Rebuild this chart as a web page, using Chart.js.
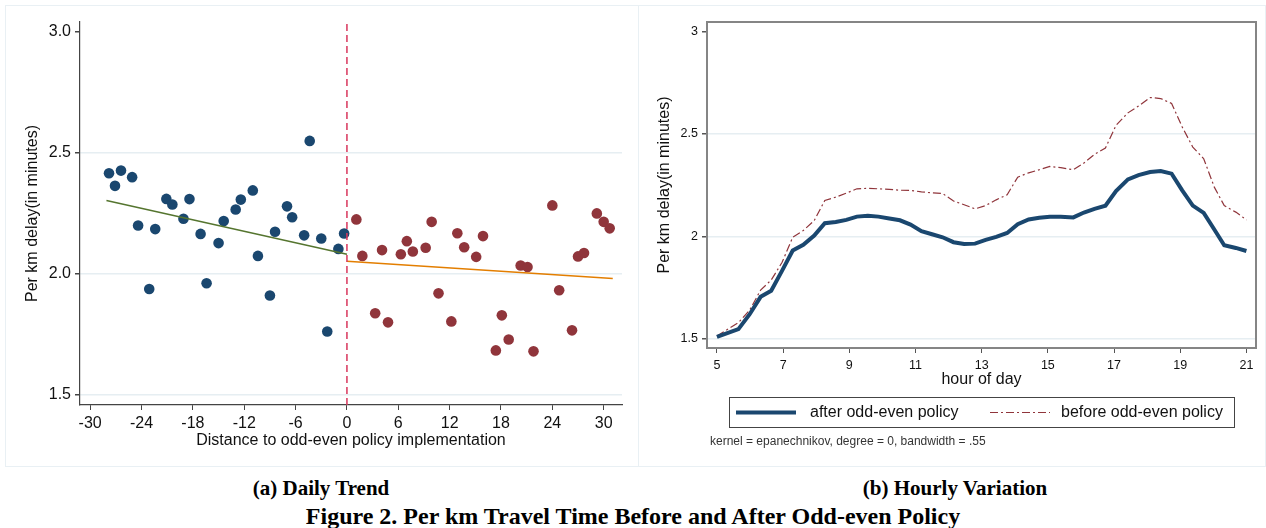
<!DOCTYPE html>
<html>
<head>
<meta charset="utf-8">
<script src="https://cdn.jsdelivr.net/npm/chart.js@4.4.1/dist/chart.umd.min.js"></script>
<style>
  body { margin: 0; background: #fff; width: 1266px; height: 528px; position: relative; overflow: hidden; }
  .panel { position: absolute; border: 1px solid #e9f0f4; box-sizing: border-box; }
  .wrap { position: absolute; }
  .cap { position: absolute; font-family: 'Liberation Serif', 'Times New Roman', serif; font-weight: bold; font-size: 21px; color: #000; white-space: nowrap; transform: translate(-50%, -50%); }
</style>
</head>
<body>
<div class="panel" style="left:5px;top:5px;width:634px;height:462px;"></div>
<div class="panel" style="left:638px;top:5px;width:628px;height:462px;"></div>
<div class="wrap" style="left:0;top:0;width:640px;height:470px;"><canvas id="dailyChart" width="640" height="470"></canvas></div>
<div class="wrap" style="left:640px;top:0;width:626px;height:470px;"><canvas id="hourlyChart" width="626" height="470"></canvas></div>
<div class="cap" style="left:321px;top:488px;">(a) Daily Trend</div>
<div class="cap" style="left:955px;top:488px;">(b) Hourly Variation</div>
<div class="cap" style="left:633px;top:516px;font-size:24px;">Figure 2. Per km Travel Time Before and After Odd-even Policy</div>

<script>
// Data - daily trend
const daysBefore = [-27.8, -27.1, -26.4, -25.1, -24.4, -23.1, -22.4, -21.1, -20.4, -19.1, -18.4, -17.1, -16.4, -15.0, -14.4,
    -13.0, -12.4, -11.0, -10.4, -9.0, -8.4, -7.0, -6.4, -5.0, -4.35, -3.0, -2.3, -1.0, -0.33];
const delayBefore = [2.415, 2.363, 2.426, 2.399, 2.199, 1.936, 2.184, 2.309, 2.286, 2.227, 2.308, 2.164, 1.960, 2.126, 2.217,
    2.265, 2.306, 2.344, 2.073, 1.909, 2.173, 2.278, 2.233, 2.158, 2.549, 2.145, 1.760, 2.102, 2.166];
const daysAfter = [1.1, 1.8, 3.3, 4.1, 4.8, 6.3, 7.0, 7.7, 9.2, 9.9, 10.7, 12.2, 12.9, 13.7, 15.1,
    15.9, 17.4, 18.1, 18.9, 20.3, 21.1, 21.8, 24.0, 24.8, 26.3, 27.0, 27.7, 29.2, 30.0, 30.7];
const delayAfter = [2.224, 2.073, 1.836, 2.097, 1.798, 2.080, 2.134, 2.091, 2.107, 2.214, 1.918, 1.802, 2.167, 2.109, 2.069,
    2.155, 1.682, 1.827, 1.727, 2.033, 2.027, 1.678, 2.282, 1.931, 1.765, 2.071, 2.085, 2.249, 2.214, 2.187];
const fitBeforeX = [-28.1, 0];
const fitBeforeY = [2.302, 2.080];
const fitAfterX = [0, 31.06];
const fitAfterY = [2.051, 1.980];
const dailyXTicks = [-30, -24, -18, -12, -6, 0, 6, 12, 18, 24, 30];
const dailyYTicks = [1.5, 2.0, 2.5, 3.0];
const dailyXRange = [-31.19, 32.14];
const dailyYRange = [1.456, 3.041];

// Data - hourly variation
const hours = [5.0, 5.65, 5.99, 6.32, 6.64, 6.97, 7.29, 7.61, 7.94, 8.26, 8.59, 8.91, 9.23, 9.56, 9.88, 10.21, 10.53,
    10.85, 11.18, 11.50, 11.82, 12.15, 12.47, 12.80, 13.12, 13.44, 13.77, 14.09, 14.42, 14.74, 15.06, 15.39, 15.77,
    16.09, 16.41, 16.74, 17.06, 17.42, 17.74, 18.09, 18.41, 18.74, 19.06, 19.38, 19.71, 20.03, 20.33, 20.68, 21.0];
const afterPolicy = [1.508, 1.546, 1.619, 1.704, 1.734, 1.832, 1.930, 1.958, 2.003, 2.064, 2.070, 2.080, 2.096, 2.100,
    2.096, 2.087, 2.078, 2.057, 2.025, 2.010, 1.995, 1.971, 1.962, 1.964, 1.982, 1.997, 2.016, 2.059, 2.082, 2.090,
    2.095, 2.095, 2.092, 2.116, 2.134, 2.149, 2.221, 2.278, 2.299, 2.314, 2.319, 2.306, 2.224, 2.150, 2.114, 2.033,
    1.956, 1.943, 1.928];
const beforePolicy = [1.513, 1.578, 1.639, 1.737, 1.786, 1.873, 1.995, 2.028, 2.077, 2.175, 2.191, 2.211, 2.232, 2.234,
    2.232, 2.229, 2.225, 2.224, 2.217, 2.212, 2.209, 2.172, 2.154, 2.134, 2.150, 2.178, 2.203, 2.289, 2.310, 2.325,
    2.341, 2.335, 2.325, 2.358, 2.400, 2.431, 2.542, 2.603, 2.636, 2.678, 2.673, 2.649, 2.534, 2.436, 2.379, 2.240,
    2.150, 2.118, 2.080];
const hourlyXTicks = [5, 7, 9, 11, 13, 15, 17, 19, 21];
const hourlyYTicks = [1.5, 2, 2.5, 3];
const hourlyXRange = [4.70, 21.29];
const hourlyYRange = [1.454, 3.047];
const legendLabels = ['after odd-even policy', 'before odd-even policy'];
const kernelNote = 'kernel = epanechnikov, degree = 0, bandwidth = .55';

const SANS = "'Liberation Sans', Arial, sans-serif";
const navy = '#1a476f';
const maroon = '#90353b';
const gridColor = '#e6eef2';

const pts = (xs, ys) => xs.map((x, i) => ({ x: x, y: ys[i] }));

// Daily trend chart
new Chart(document.getElementById('dailyChart'), {
    type: 'scatter',
    data: {
        datasets: [
            { data: pts(daysBefore, delayBefore), backgroundColor: navy, pointRadius: 5.3, borderWidth: 0, order: 5 },
            { data: pts(daysAfter, delayAfter), backgroundColor: maroon, pointRadius: 5.3, borderWidth: 0, order: 5 },
            { data: pts(fitBeforeX, fitBeforeY), showLine: true, borderColor: '#55752f', borderWidth: 1.5, pointRadius: 0, order: 1 },
            { data: pts(fitAfterX, fitAfterY), showLine: true, borderColor: '#e37e00', borderWidth: 1.5, pointRadius: 0, order: 1 },
            { data: pts([0, 0], dailyYRange), showLine: true, borderColor: '#d8365c', borderWidth: 1.5,
              borderDash: [7, 4], pointRadius: 0, order: 0 }
        ]
    },
    options: {
        responsive: false,
        animation: false,
        layout: { padding: { top: 22, right: 18, bottom: 15, left: 0 } },
        plugins: { legend: { display: false }, tooltip: { enabled: false } },
        scales: {
            x: {
                type: 'linear', min: dailyXRange[0], max: dailyXRange[1],
                afterBuildTicks: s => { s.ticks = dailyXTicks.map(v => ({ value: v })); },
                afterFit: s => { s.height = 50; },
                grid: { drawOnChartArea: false, tickColor: '#444', tickLength: 5 },
                border: { color: '#444', width: 1.2 },
                ticks: { color: '#111', font: { family: SANS, size: 16 }, padding: 4, maxRotation: 0 },
                title: { display: true, text: 'Distance to odd-even policy implementation', color: '#111',
                         font: { family: SANS, size: 16 }, padding: { top: 0, bottom: 5 } }
            },
            y: {
                min: dailyYRange[0], max: dailyYRange[1],
                afterBuildTicks: s => { s.ticks = dailyYTicks.map(v => ({ value: v })); },
                afterFit: s => { s.width = 80; },
                grid: { color: c => c.tick && c.tick.value === 3 ? 'rgba(0,0,0,0)' : gridColor, lineWidth: 1.5,
                        tickColor: '#444', tickLength: 5 },
                border: { color: '#444', width: 1.2 },
                ticks: { color: '#111', font: { family: SANS, size: 16 }, padding: 4, callback: v => v.toFixed(1) },
                title: { display: true, text: 'Per km delay(in minutes)', color: '#111',
                         font: { family: SANS, size: 16 }, padding: { top: 23, bottom: 0 } }
            }
        }
    }
});

// Frame and legend drawn for the hourly panel
const hourlyDecor = {
    id: 'hourlyDecor',
    afterDraw(chart) {
        const ctx = chart.ctx;
        const a = chart.chartArea;
        ctx.save();
        ctx.strokeStyle = '#858585';
        ctx.lineWidth = 2;
        ctx.strokeRect(a.left, a.top, a.right - a.left, a.bottom - a.top);

        // legend box
        ctx.strokeStyle = '#444';
        ctx.lineWidth = 1;
        ctx.strokeRect(89.5, 397.5, 505, 30);
        const ds = chart.data.datasets;
        const items = [{ x: 96, tx: 170 }, { x: 350, tx: 421 }];
        ctx.font = '16px ' + SANS;
        ctx.textBaseline = 'middle';
        items.forEach((it, i) => {
            const d = ds[i];
            ctx.strokeStyle = d.borderColor;
            ctx.lineWidth = d.borderWidth;
            ctx.setLineDash(d.borderDash || []);
            ctx.beginPath();
            ctx.moveTo(it.x, 412.5);
            ctx.lineTo(it.x + 60, 412.5);
            ctx.stroke();
            ctx.setLineDash([]);
            ctx.fillStyle = '#111';
            ctx.fillText(d.label, it.tx, 413);
        });
        ctx.font = '12px ' + SANS;
        ctx.fillStyle = '#333';
        ctx.fillText(kernelNote, 70, 442);
        ctx.restore();
    }
};

// Hourly variation chart
new Chart(document.getElementById('hourlyChart'), {
    type: 'line',
    data: {
        datasets: [
            { label: legendLabels[0], data: pts(hours, afterPolicy), borderColor: navy, borderWidth: 4,
              pointRadius: 0, tension: 0, order: 0 },
            { label: legendLabels[1], data: pts(hours, beforePolicy), borderColor: maroon, borderWidth: 1.2,
              borderDash: [8, 3, 2, 3], pointRadius: 0, tension: 0, order: 1 }
        ]
    },
    options: {
        responsive: false,
        animation: false,
        layout: { padding: { top: 22, right: 10, bottom: 77, left: 0 } },
        plugins: { legend: { display: false }, tooltip: { enabled: false } },
        scales: {
            x: {
                type: 'linear', min: hourlyXRange[0], max: hourlyXRange[1],
                afterBuildTicks: s => { s.ticks = hourlyXTicks.map(v => ({ value: v })); },
                afterFit: s => { s.height = 45; },
                grid: { drawOnChartArea: false, tickColor: '#555', tickLength: 5 },
                border: { display: false },
                ticks: { color: '#111', font: { family: SANS, size: 12.5 }, padding: 5, maxRotation: 0 },
                title: { display: true, text: 'hour of day', color: '#111',
                         font: { family: SANS, size: 16 }, padding: { top: 0, bottom: 3.4 } }
            },
            y: {
                min: hourlyYRange[0], max: hourlyYRange[1],
                afterBuildTicks: s => { s.ticks = hourlyYTicks.map(v => ({ value: v })); },
                afterFit: s => { s.width = 67; },
                grid: { color: c => c.tick && c.tick.value === 3 ? 'rgba(0,0,0,0)' : gridColor, lineWidth: 1.5,
                        tickColor: '#555', tickLength: 5 },
                border: { display: false },
                ticks: { color: '#111', font: { family: SANS, size: 12.5 }, padding: 4, callback: v => String(v) },
                title: { display: true, text: 'Per km delay(in minutes)', color: '#111',
                         font: { family: SANS, size: 16 }, padding: { top: 15, bottom: 0 } }
            }
        }
    },
    plugins: [hourlyDecor]
});
</script>
</body>
</html>
